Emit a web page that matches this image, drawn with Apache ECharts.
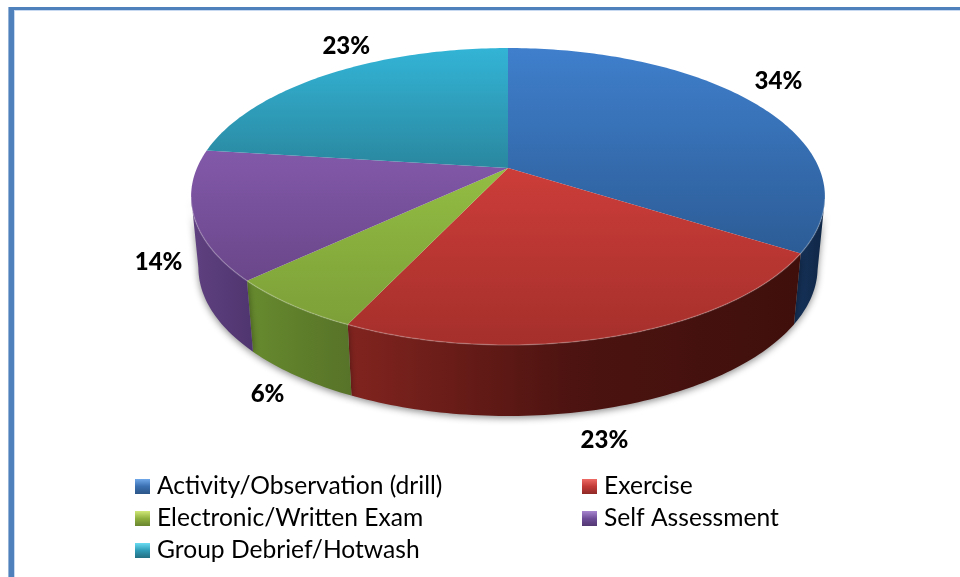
<!DOCTYPE html>
<html lang="en">
<head>
  <meta charset="UTF-8">
  <title>pie</title>
  <script src="https://cdn.jsdelivr.net/npm/echarts@6/dist/echarts.min.js"></script>
  <style>
    html, body { margin: 0; padding: 0; background: #fff; }
    #chart { width: 960px; height: 577px; }
  </style>
</head>
<body>
  <div id="chart"></div>
  <script>
    var categories = ['Activity/Observation (drill)', 'Exercise', 'Electronic/Written Exam', 'Self Assessment', 'Group Debrief/Hotwash']
    var values = [34, 23, 6, 14, 23]

    // colours per slice: top face light/dark, side face stops, legend stops
    var topColors = [['#3f7fcc', '#2c5c96'], ['#cc3d39', '#a52f2b'], ['#92bd43', '#7d9f38'], ['#8259aa', '#6a4689'], ['#33b4d6', '#2a879f']]
    var sideColors = [['#15325a', '#102746'], ['#82241f', '#4c1310', '#3f0f0c'], ['#678a2e', '#577328'], ['#5f4080', '#4f3570'], ['#20707f', '#1a5a66']]
    var legendColors = [['#6fa8ea', '#3a6fb0', '#2c5688'], ['#ee6a64', '#c23a36', '#8e2a27'], ['#d0e878', '#8fb03e', '#6a8530'], ['#a887d0', '#6f4d98', '#523872'], ['#6adcf2', '#2f9bb6', '#236f82']]

    // label nudges away from the rim, in px
    var labelOffsets = [[21, -24], [-10, 33], [-24, 18], [-35, -24], [18, -28]]

    // perspective ellipse, bottom face is a bit narrower than the top one
    var cx = 508, cy = 168, rx = 311, ry = 143, persp = -0.192, depth = 71, bottomScale = 0.977

    var total = values.reduce(function (a, b) { return a + b }, 0)

    function project(deg) {
      var a = deg * Math.PI / 180
      var u = Math.sin(a), v = -Math.cos(a)
      var d = 1 + persp * v
      return { x: cx + rx * u / d, y: cy + ry * v / d, v: v }
    }

    function gradient(stops, horizontal) {
      return {
        type: 'linear', x: 0, y: 0, x2: horizontal ? 1 : 0, y2: horizontal ? 0 : 1,
        colorStops: stops.map(function (c, i) { return { offset: i / (stops.length - 1), color: c } })
      }
    }

    function sliceRenderer(index) {
      return function (params, api) {
        var value = api.value(0)
        var before = 0
        for (var i = 0; i < index; i++) before += values[i]
        var start = before / total * 360
        var end = (before + value) / total * 360

        var arc = []
        for (var d = start; d < end; d += 1) arc.push(project(d))
        arc.push(project(end))

        var topPts = [[cx, cy]].concat(arc.map(function (p) { return [p.x, p.y] }))
        var front = arc.filter(function (p) { return p.v >= -persp })
        var children = []

        if (front.length > 1) {
          var upper = front.map(function (p) { return [p.x, p.y] })
          var lower = front.map(function (p) { return [cx + (p.x - cx) * bottomScale, p.y + depth] }).reverse()
          children.push({
            type: 'polygon', z2: 1,
            shape: { points: upper.concat(lower) },
            style: { fill: gradient(sideColors[index], true), shadowBlur: 7, shadowColor: 'rgba(0,0,0,0.45)', shadowOffsetY: 2 }
          })
          children.push({
            type: 'polyline', z2: 11,
            shape: { points: upper },
            style: { fill: null, stroke: 'rgba(255,255,255,0.2)', lineWidth: 1.5 }
          })
        }

        children.push({
          type: 'polygon', z2: 10,
          shape: { points: topPts },
          style: { fill: gradient(topColors[index]) }
        })

        var mid = project((start + end) / 2)
        children.push({
          type: 'text', z2: 20,
          x: mid.x + labelOffsets[index][0],
          y: mid.y + labelOffsets[index][1] + (mid.v > -persp ? depth : 0),
          style: { text: value + '%', fill: '#000', font: '900 24px Lato', align: 'center', verticalAlign: 'middle' }
        })

        return { type: 'group', children: children }
      }
    }

    var series = categories.map(function (name, i) {
      return {
        name: name,
        type: 'custom',
        coordinateSystem: 'none',
        silent: true,
        itemStyle: { color: topColors[i][0] },
        data: [[values[i]]],
        renderItem: sliceRenderer(i)
      }
    })

    function legendItem(i) {
      return { name: categories[i], icon: 'rect', itemStyle: { color: gradient(legendColors[i]) } }
    }

    var legendText = { fontFamily: 'Lato', fontSize: 24.6, color: '#000', padding: [0, 0, 0, 2] }

    var option = {
      animation: false,
      backgroundColor: '#fff',
      graphic: [
        { type: 'rect', shape: { x: 8, y: 7, width: 952, height: 570 }, style: { fill: '#95b3d7' }, z: -3 },
        { type: 'rect', shape: { x: 9, y: 7, width: 951, height: 570 }, style: { fill: '#4f81bd' }, z: -2 },
        { type: 'rect', shape: { x: 14, y: 10, width: 946, height: 567 }, style: { fill: '#c6d9f0' }, z: -1 },
        { type: 'rect', shape: { x: 15, y: 11, width: 945, height: 566 }, style: { fill: '#fff' }, z: 0 }
      ],
      legend: [
        {
          left: 130, top: 469, orient: 'vertical', itemWidth: 15, itemHeight: 15, itemGap: 7,
          selectedMode: false, textStyle: legendText,
          data: [legendItem(0), legendItem(2), legendItem(4)]
        },
        {
          left: 577, top: 469, orient: 'vertical', itemWidth: 15, itemHeight: 15, itemGap: 7,
          selectedMode: false, textStyle: legendText,
          data: [legendItem(1), legendItem(3)]
        }
      ],
      series: series
    }

    var mCharts = echarts.init(document.getElementById('chart'), null, { renderer: 'canvas' })
    mCharts.setOption(option)
  </script>
</body>
</html>
